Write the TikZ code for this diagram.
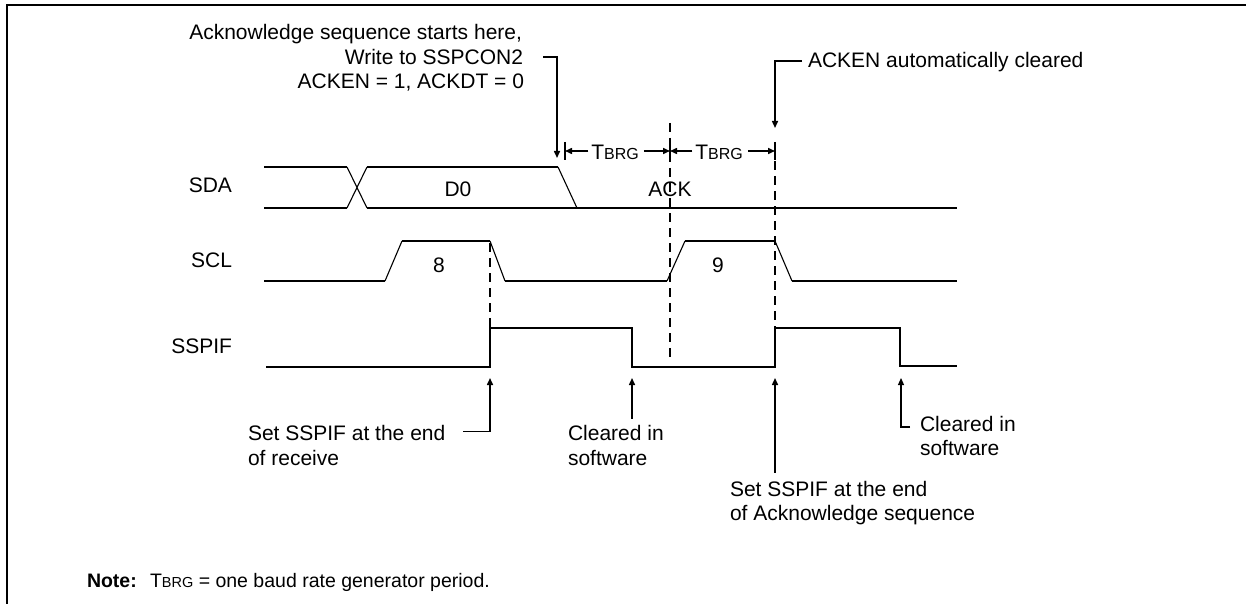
\documentclass[tikz,border=0pt]{standalone}
\usepackage{fontspec}
\setmainfont{Liberation Sans}
\usetikzlibrary{arrows.meta,calc}
\newcommand\Tbrg{T{\fontsize{16}{16}\selectfont BRG}}
\begin{document}
\begin{tikzpicture}[x=1pt,y=-1pt,
  lab/.style={font=\fontsize{21}{25}\selectfont, inner sep=0pt, outer sep=0pt},
  notetxt/.style={font=\fontsize{19.5}{23}\selectfont, inner sep=0pt, outer sep=0pt},
  wave/.style={line width=2pt},
  slant/.style={line width=1.1pt},
  dsh/.style={line width=2pt, dash pattern=on 9pt off 6pt},
  tick/.style={line width=1.8pt},
  arr/.style={line width=1.5pt, -{Triangle[length=7pt,width=6pt]}},
  ]
\useasboundingbox (0,0) rectangle (1246,604);
\draw[line width=2pt] (7,604) -- (7,5) -- (1246,5);

% signal names
\node[lab, anchor=base east] (sda) at (232,193) {SDA};
\node[lab, anchor=base east] (scl) at (232,267) {SCL};
\node[lab, anchor=base east] (sspif) at (232,353) {SSPIF};

% SDA
\draw[wave] (264,167) -- (347,167);
\draw[wave] (264,208) -- (347,208);
\draw[slant] (347,167) -- (367,208);
\draw[slant] (347,208) -- (367,167);
\draw[wave] (367,167) -- (558,167);
\draw[slant] (558,167) -- (577,208);
\draw[wave] (367,208) -- (957,208);
\node[lab, anchor=base] (d0) at (458,196) {D0};
\node[lab, anchor=base] (ack) at (670,196) {ACK};

% SCL
\draw[wave] (264,281) -- (385,281);
\draw[slant] (385,281) -- (402,241);
\draw[wave] (402,241) -- (490,241);
\draw[slant] (490,241) -- (505,281);
\draw[wave] (505,281) -- (667,281);
\draw[slant] (667,281) -- (685,241);
\draw[wave] (685,241) -- (775,241);
\draw[slant] (775,241) -- (792,281);
\draw[wave] (792,281) -- (957,281);
\node[lab, anchor=base] (b8) at (439,272) {8};
\node[lab, anchor=base] (b9) at (718,272) {9};

% SSPIF
\draw[wave] (266,367) -- (490,367) -- (490,328) -- (632,328) -- (632,367)
  -- (775,367) -- (775,328) -- (900,328) -- (900,366) -- (957,366);

% dashed markers
\draw[dsh] (490,243) -- (490,327);
\draw[dsh] (670,123) -- (670,357);
\draw[dsh] (775,161) -- (775,327);

% TBRG dimensions
\coordinate (k1) at (565,151);
\coordinate (k2) at (670,151);
\coordinate (k3) at (775,151);
\draw[tick] (565,142) -- (565,160);
\draw[tick] (670,142) -- (670,160);
\draw[tick] (775,142) -- (775,160);
\node[lab, anchor=base] (t1) at (615,160) {\Tbrg};
\node[lab, anchor=base] (t2) at (719,160) {\Tbrg};
\draw[arr] ($(t1.west |- k1)+(-3,0)$) -- (k1);
\draw[arr] ($(t1.east |- k1)+(5,0)$) -- (k2);
\draw[arr] ($(t2.west |- k2)+(-3,0)$) -- (k2);
\draw[arr] ($(t2.east |- k3)+(5,0)$) -- (k3);

% top-left annotation
\node[lab, anchor=base east] (n1) at (522,39.5) {Acknowledge sequence starts here,};
\node[lab, anchor=base east] (n2) at (523,64.5) {Write to SSPCON2};
\node[lab, anchor=base east] (n3) at (524,88.5) {ACKEN = 1, ACKDT = 0};
\coordinate (p1) at (557,158);
\draw[arr] ($(n2.east)+(20,0)$) -| (p1);

% ACKEN cleared
\node[lab, anchor=base west] (ak) at (808,68) {ACKEN automatically cleared};
\coordinate (p2) at (775,128);
\draw[arr] ($(ak.west)+(-6,-1.5)$) -| (p2);

% bottom annotations
\node[lab, anchor=base west] (s1) at (248,440) {Set SSPIF at the end};
\node[lab, anchor=base west] (s1b) at (248,465) {of receive};
\coordinate (u1) at (490,378);
\draw[arr] ($(s1.east)+(18,-1)$) -| (u1);

\node[lab, anchor=base west] (c1) at (568,440) {Cleared in};
\node[lab, anchor=base west] (c1b) at (568,465) {software};
\coordinate (u2) at (632,378);
\draw[arr] ($(c1.north -| u2)+(0,-6)$) -- (u2);

\node[lab, anchor=base west] (s2) at (730,496) {Set SSPIF at the end};
\node[lab, anchor=base west] (s2b) at (730,520) {of Acknowledge sequence};
\coordinate (u3) at (775,378);
\draw[arr] ($(s2.north -| u3)+(0,-8)$) -- (u3);

\node[lab, anchor=base west] (c2) at (920,431) {Cleared in};
\node[lab, anchor=base west] (c2b) at (920,455) {software};
\coordinate (u4) at (901,378);
\draw[arr, line width=1.1pt] ($(c2.west)+(-10,3.5)$) -| (u4);

% note
\node[notetxt, anchor=base west] (nt) at (87,587) {\bfseries Note:};
\node[notetxt, anchor=base west] (nt2) at (150,587) {T{\fontsize{14.5}{15}\selectfont BRG} = one baud rate generator period.};
\end{tikzpicture}
\end{document}
